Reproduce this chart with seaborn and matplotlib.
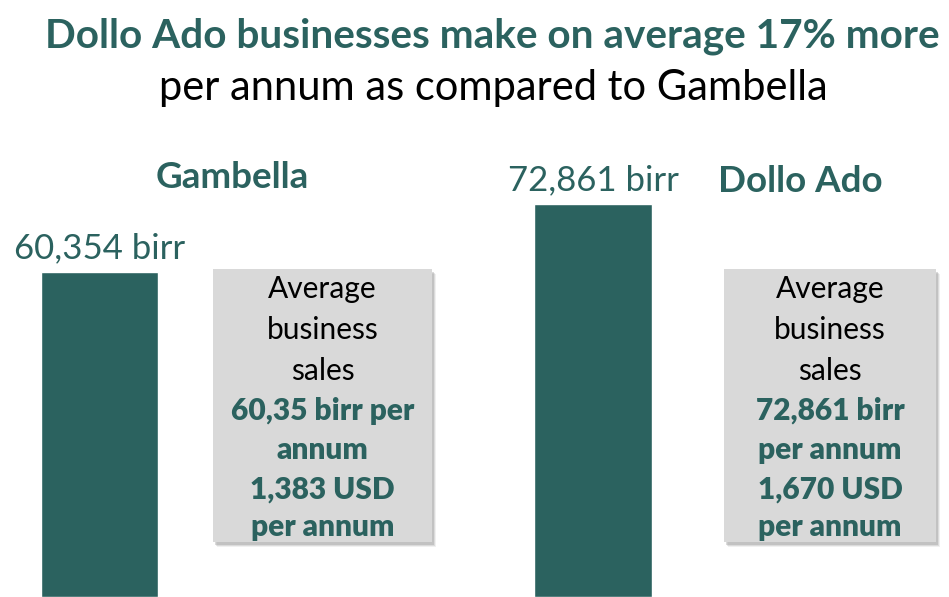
import matplotlib
matplotlib.use("Agg")
import matplotlib.pyplot as plt
from matplotlib.patches import Rectangle
import seaborn as sns

# Data
regions = ["Gambella", "Dollo Ado"]
sales_birr = [60354, 72861]
value_labels = ["60,354 birr", "72,861 birr"]
box_lines_plain = ["Average", "business", "sales"]
box_lines_bold = [
    ["60,35 birr per", "annum", "1,383 USD", "per annum"],
    ["72,861 birr", "per annum", "1,670 USD", "per annum"],
]

TEAL = "#2b625f"
GREY = "#d9d9d9"
W, H = 949, 597

sns.set_style("white")
plt.rcParams["font.family"] = ["Lato", "DejaVu Sans"]

fig = plt.figure(figsize=(W / 100, H / 100), dpi=100)
ax = fig.add_axes([0, 0, 1, 1])

sns.barplot(x=regions, y=sales_birr, color=TEAL, saturation=1, width=0.239, ax=ax)
ax.set_xlim(-0.2016, 1.7214)
ax.set_ylim(0, 110760)
ax.axis("off")


def fx(px):
    return px / W


def fy(py):
    return 1 - py / H


# title
fig.text(fx(492), fy(36), "Dollo Ado businesses make on average 17% more",
         ha="center", va="center", fontsize=29.2, fontweight="bold", color=TEAL)
fig.text(fx(493), fy(88), "per annum as compared to Gambella",
         ha="center", va="center", fontsize=30, color="black")

# value labels above bars
for i, (v, lab) in enumerate(zip(sales_birr, value_labels)):
    ax.annotate(lab, (i, v), xytext=(0, 10), textcoords="offset points",
                ha="center", va="baseline", fontsize=25, color=TEAL)

# region headers
head_x = [232, 800]
head_y = [177, 181]
for name, x, y in zip(regions, head_x, head_y):
    fig.text(fx(x), fy(y), name, ha="center", va="center", fontsize=26.5,
             fontweight="bold", color=TEAL)

# grey info boxes
box_left = [213, 724]
box_right = [432, 936]
box_top, box_bottom = 269, 542
line_y = [289, 330, 371, 411, 450, 490, 527]
for k in range(2):
    x0, x1 = box_left[k], box_right[k]
    for off, a in [(5, 0.12), (4, 0.2), (3, 0.3)]:
        shadow = Rectangle((fx(x0 + off - 1), fy(box_bottom + off)), fx(x1 - x0), fy(box_top) - fy(box_bottom),
                           transform=fig.transFigure, facecolor="#8a8a8a", alpha=a,
                           edgecolor="none", zorder=1)
        fig.add_artist(shadow)
    box = Rectangle((fx(x0), fy(box_bottom)), fx(x1 - x0), fy(box_top) - fy(box_bottom),
                    transform=fig.transFigure, facecolor=GREY, edgecolor="none", zorder=2)
    fig.add_artist(box)
    cx = (x0 + x1) / 2
    lines = box_lines_plain + box_lines_bold[k]
    for j, (txt, y) in enumerate(zip(lines, line_y)):
        bold = j >= len(box_lines_plain)
        fig.text(fx(cx), fy(y), txt, ha="center", va="center",
                 fontsize=21.5,
                 fontweight="heavy" if bold else "normal",
                 color=TEAL if bold else "black", zorder=3)

fig.savefig("out.png", dpi=100, facecolor="white")
